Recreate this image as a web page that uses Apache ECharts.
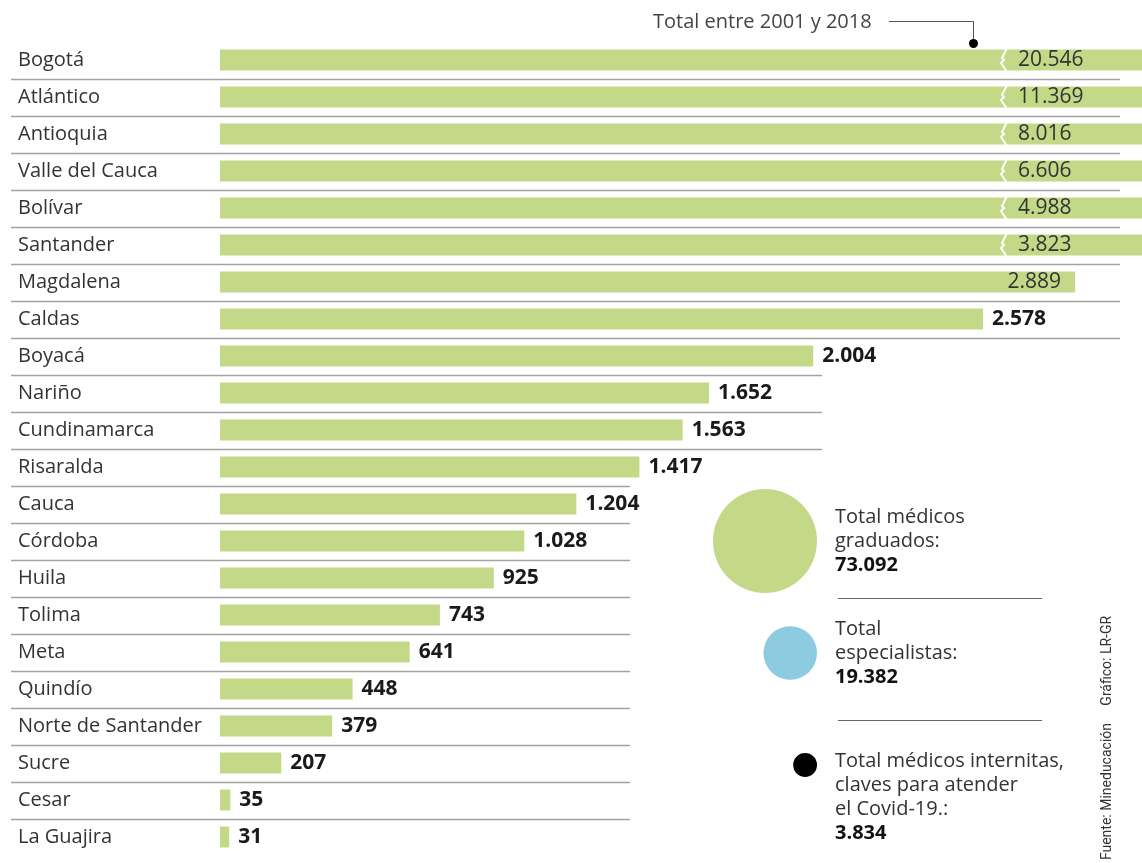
<!DOCTYPE html>
<html>
<head>
<meta charset="utf-8">
<title>Médicos graduados por departamento</title>
<script src="https://cdn.jsdelivr.net/npm/echarts@6/dist/echarts.min.js"></script>
<style>
	html, body { margin: 0; padding: 0; background: #fff; }
	#chart { width: 1142px; height: 863px; }
</style>
</head>
<body>
<div id="chart"></div>
<script>
// datos
const provincias = ['Bogotá', 'Atlántico', 'Antioquia', 'Valle del Cauca', 'Bolívar', 'Santander',
	'Magdalena', 'Caldas', 'Boyacá', 'Nariño', 'Cundinamarca', 'Risaralda', 'Cauca', 'Córdoba',
	'Huila', 'Tolima', 'Meta', 'Quindío', 'Norte de Santander', 'Sucre', 'Cesar', 'La Guajira'];
const graduados = [20546, 11369, 8016, 6606, 4988, 3823, 2889, 2578, 2004, 1652, 1563, 1417,
	1204, 1028, 925, 743, 641, 448, 379, 207, 35, 31];

const totalesNombres = ['graduados', 'especialistas', 'internos'];
const totales = [73092, 19382, 3834];
const totalesTextos = ['Total médicos\ngraduados:', 'Total\nespecialistas:',
	'Total médicos internitas,\nclaves para atender\nel Covid-19.:'];
const totalesColores = ['#c4d987', '#8dcbe0', '#000'];

const FONT = 'Open Sans';
const MAX_X = 3115;     // valores mayores se cortan en el borde
const fmt = (v) => String(v).replace(/\B(?=(\d{3})+(?!\d))/g, '.');

const myChart = echarts.init(document.getElementById('chart'), null, { renderer: 'canvas' });

const barData = graduados.map((v) => {
	if (v > MAX_X) {
		return {
			value: v,
			label: { position: [798, '50%'], verticalAlign: 'middle', fontWeight: 'normal', color: '#333' }
		};
	}
	if (v > 2700) {
		return {
			value: v,
			label: { position: 'insideRight', distance: 14, fontWeight: 'normal', color: '#333' }
		};
	}
	return { value: v };
});

// tamaño del círculo proporcional al área
const radio = (v) => 52 * Math.sqrt(v / totales[0]);
const scatterData = totales.map((v, i) => {
	const r = radio(v);
	const item = {
		value: [117 - r, totalesNombres[i]],
		symbolSize: r * 2,
		itemStyle: { color: totalesColores[i], opacity: 1 },
		texto: totalesTextos[i],
		total: v
	};
	if (i === 2) {
		item.label = { position: [r * 2 + 18, -4], align: 'left', verticalAlign: 'top' };
	}
	return item;
});

const option = {
	animation: false,
	textStyle: { fontFamily: FONT },
	grid: [
		{ left: 220, right: 0, top: 41.5, height: 814 },
		{ left: 700, top: 485, width: 120, height: 336 }
	],
	xAxis: [
		{ type: 'value', min: 0, max: MAX_X, show: false, gridIndex: 0 },
		{ type: 'value', min: 0, max: 120, show: false, gridIndex: 1 }
	],
	yAxis: [
		{
			type: 'category',
			data: provincias,
			inverse: true,
			gridIndex: 0,
			axisLine: { show: false },
			axisTick: { show: false },
			axisLabel: {
				align: 'left',
				margin: 202,
				fontSize: 20,
				fontFamily: FONT,
				color: '#333'
			}
		},
		{ type: 'category', data: totalesNombres, inverse: true, show: false, gridIndex: 1 }
	],
	series: [
		{
			// líneas separadoras entre filas
			type: 'custom',
			xAxisIndex: 0,
			yAxisIndex: 0,
			clip: false,
			silent: true,
			data: provincias.slice(0, -1).map((p, i) => [0, i]),
			renderItem(params, api) {
				const idx = api.value(1);
				const band = api.size([0, 1])[1];
				const y = Math.round(api.coord([0, idx])[1] + band / 2) + 0.5;
				const x2 = idx < 8 ? 1120 : idx < 11 ? 822 : 630;
				return {
					type: 'line',
					shape: { x1: 11, y1: y, x2: x2, y2: y },
					style: { stroke: '#a3a3a3', lineWidth: 1.6 }
				};
			},
			z: 1
		},
		{
			type: 'bar',
			xAxisIndex: 0,
			yAxisIndex: 0,
			data: barData,
			barWidth: 21,
			itemStyle: { color: '#c4d987' },
			label: {
				show: true,
				position: 'right',
				distance: 9,
				fontSize: 21,
				fontWeight: 'bold',
				fontFamily: FONT,
				color: '#1a1a1a',
				formatter: (p) => fmt(p.value)
			},
			z: 2
		},
		{
			// corte de las barras que no caben
			type: 'custom',
			xAxisIndex: 0,
			yAxisIndex: 0,
			clip: false,
			silent: true,
			data: graduados.map((v, i) => [v, i]).filter((d) => d[0] > MAX_X),
			renderItem(params, api) {
				const idx = api.value(1);
				const cy = api.coord([0, idx])[1];
				const h = 11;
				const x = 1002;
				return {
					type: 'polyline',
					shape: { points: [[x + 5, cy - h - 1], [x, cy - 2], [x + 2, cy], [x - 1, cy + 3], [x + 5, cy + h + 1]] },
					style: { stroke: '#fff', lineWidth: 2, fill: null }
				};
			},
			z: 3
		},
		{
			type: 'scatter',
			xAxisIndex: 1,
			yAxisIndex: 1,
			data: scatterData,
			label: {
				show: true,
				position: 'right',
				distance: 18,
				formatter: (p) => p.data.texto.split('\n').map((t) => '{n|' + t + '}').join('\n') + '\n{b|' + fmt(p.data.total) + '}',
				rich: {
					n: { fontSize: 20, fontFamily: FONT, color: '#333', lineHeight: 24 },
					b: { fontSize: 20, fontFamily: FONT, fontWeight: 'bold', color: '#111', lineHeight: 24 }
				}
			}
		}
	],
	graphic: [
		{
			type: 'text',
			left: 653,
			top: 12,
			style: { text: 'Total entre 2001 y 2018', font: '20px "Open Sans"', fill: '#444' }
		},
		{
			type: 'polyline',
			shape: { points: [[889, 21.5], [973.5, 21.5], [973.5, 42]] },
			style: { stroke: '#555', lineWidth: 1, fill: null }
		},
		{
			type: 'circle',
			shape: { cx: 973.5, cy: 43.5, r: 4.5 },
			style: { fill: '#000' }
		},
		{
			type: 'line',
			shape: { x1: 838, y1: 598.5, x2: 1042, y2: 598.5 },
			style: { stroke: '#666', lineWidth: 1 }
		},
		{
			type: 'line',
			shape: { x1: 838, y1: 720.5, x2: 1042, y2: 720.5 },
			style: { stroke: '#666', lineWidth: 1 }
		},
		{
			type: 'text',
			x: 1107,
			y: 738,
			rotation: Math.PI / 2,
			style: {
				text: 'Fuente: Mineducación     Gráfico: LR-GR',
				font: '14px "Liberation Sans Narrow", "Roboto"',
				fill: '#333',
				align: 'center',
				verticalAlign: 'middle'
			}
		}
	]
};

myChart.setOption(option);
</script>
</body>
</html>
